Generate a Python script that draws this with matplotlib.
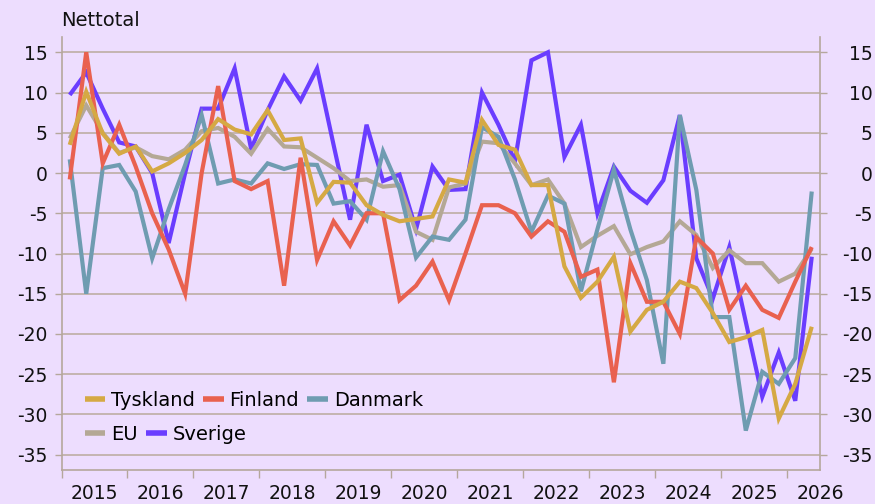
import matplotlib
matplotlib.use("Agg")
import matplotlib.pyplot as plt
from matplotlib.lines import Line2D
import numpy as np
import pandas as pd

# Quarterly observations 2015Q1 .. 2026Q2
quarters = pd.period_range("2015Q1", "2026Q2", freq="Q")

tyskland = [3.5, 10.1, 4.9, 2.4, 3.3, 0.2, 1.2, 2.5, 4.1, 6.7, 5.4, 4.8,
            7.8, 4.1, 4.3, -3.7, -1.1, -1.2, -4.0, -5.2, -6.0, -5.7, -5.4, -0.8,
            -1.2, 6.6, 3.5, 2.9, -1.5, -1.5, -11.6, -15.5, -13.5, -10.4, -19.7, -17.0,
            -16.0, -13.5, -14.3, -17.4, -21.0, -20.4, -19.5, -30.5, -26.2, -19.1]
finland = [-0.8, 15.0, 1.2, 6.0, 0.8, -5.0, -9.5, -15.0, 0.0, 10.8, -1.0, -2.0,
           -1.0, -14.0, 1.9, -10.8, -6.0, -9.0, -5.0, -5.0, -15.8, -14.0, -11.0, -15.8,
           -10.0, -4.0, -4.0, -5.0, -7.9, -6.0, -7.3, -12.9, -12.0, -26.0, -11.2, -16.0,
           -16.0, -20.0, -8.0, -10.0, -17.0, -14.0, -17.0, -18.0, -13.5, -9.2]
danmark = [1.7, -15.0, 0.6, 1.0, -2.3, -10.6, -4.5, 1.0, 7.2, -1.3, -0.8, -1.3,
           1.2, 0.5, 1.1, 1.0, -3.8, -3.5, -5.8, 2.7, -2.0, -10.5, -7.9, -8.3,
           -5.8, 5.7, 4.5, -0.8, -7.3, -2.8, -3.8, -14.7, -7.0, 0.4, -7.0, -13.3,
           -23.7, 7.2, -2.1, -17.9, -17.9, -32.0, -24.7, -26.2, -23.0, -2.3]
eu = [4.3, 8.4, 5.0, 2.5, 3.2, 2.1, 1.7, 2.9, 5.2, 5.6, 4.5, 2.4,
      5.5, 3.3, 3.2, 1.9, 0.6, -1.0, -0.8, -1.7, -1.5, -7.3, -8.3, -1.8,
      -1.3, 3.9, 3.7, 1.2, -1.5, -0.8, -3.8, -9.2, -7.8, -6.6, -10.1, -9.2,
      -8.5, -6.0, -7.7, -11.8, -9.6, -11.2, -11.2, -13.5, -12.5, -9.4]
sverige = [9.7, 12.5, 8.0, 3.8, 3.3, 0.0, -8.7, 0.0, 8.0, 8.0, 13.0, 3.0,
           7.8, 12.0, 9.0, 13.0, 3.5, -5.8, 6.0, -1.0, -0.2, -7.0, 0.8, -2.1,
           -2.0, 10.0, 6.0, 1.5, 14.0, 15.0, 2.0, 6.0, -5.0, 0.8, -2.2, -3.7,
           -0.9, 7.2, -10.6, -15.6, -9.2, -18.5, -27.8, -22.3, -28.3, -10.4]

series_names = ["Tyskland", "Finland", "Danmark", "EU", "Sverige"]
series_values = [tyskland, finland, danmark, eu, sverige]
series_colors = ["#D5A944", "#E9614F", "#6F9CB1", "#B4A895", "#6A3DFF"]
series_z = [6, 5, 4, 3, 2]

year_labels = [str(y) for y in range(2015, 2027)]
y_ticks = [15, 10, 5, 0, -5, -10, -15, -20, -25, -30, -35]

bg = "#EDDDFE"
grid_c = "#BDAEA3"
spine_c = "#B5A79C"
txt_c = "#111111"
FS = 14
TFS = 13.5

plt.rcParams["font.family"] = ["DejaVu Sans"]

fig = plt.figure(figsize=(8.75, 5.04), dpi=100, facecolor=bg)
ax = fig.add_axes([61.5 / 875, 1 - 470 / 504, (820 - 61.5) / 875, (470 - 37) / 504])
ax.set_facecolor(bg)

x = np.array([q.year + (q.quarter - 0.5) / 4 for q in quarters])

for name, vals, col, z in zip(series_names, series_values, series_colors, series_z):
    ax.plot(x, vals, color=col, lw=3.0, zorder=z, solid_joinstyle="miter",
            solid_capstyle="butt", label=name)

ax.set_xlim(2015.0, 2026.5)
ax.set_ylim(-36.9, 16.9)

# y ticks both sides
ax.set_yticks(y_ticks)
ax.set_yticklabels([str(v) for v in y_ticks])
ax.tick_params(axis="y", which="both", left=True, right=True, labelleft=True,
               labelright=False, length=5, width=1, color=spine_c,
               labelsize=TFS, labelcolor=txt_c, pad=5)
ax.yaxis.grid(True, color=grid_c, lw=1.2, zorder=0)
ax.set_axisbelow(True)

# right-side labels, right-aligned near figure edge
axr = ax.twinx()
axr.set_ylim(ax.get_ylim())
axr.set_yticks(y_ticks)
axr.set_yticklabels([str(v) for v in y_ticks])
axr.tick_params(axis="y", length=5, width=1, color=spine_c, labelsize=TFS,
                labelcolor=txt_c, pad=33)
for lab in axr.get_yticklabels():
    lab.set_horizontalalignment("right")
for s in axr.spines.values():
    s.set_visible(False)

# x: major ticks at year boundaries, labels at mid-year
years = np.arange(2015, 2027)
ax.set_xticks(years)
ax.set_xticklabels([])
ax.set_xticks(years + 0.5, minor=True)
ax.set_xticklabels(year_labels, minor=True)
ax.tick_params(axis="x", which="major", length=6, width=1, color=spine_c)
ax.tick_params(axis="x", which="minor", length=0, labelsize=TFS,
               labelcolor=txt_c, pad=10)

for s in ["left", "right", "bottom"]:
    ax.spines[s].set_color(spine_c)
    ax.spines[s].set_linewidth(1.2)
ax.spines["top"].set_visible(False)

fig.text(61 / 875, 1 - 20 / 504, "Nettotal", fontsize=FS, color=txt_c,
         ha="left", va="center")

# Legend: flow layout in two rows
def handles(idx):
    return [Line2D([], [], color=series_colors[i], lw=4, solid_capstyle="butt")
            for i in idx]

common = dict(frameon=False, fontsize=FS, handlelength=1.05, handletextpad=0.3,
              columnspacing=0.42, borderaxespad=0.5, borderpad=0.4,
              loc="center left")
leg1 = ax.legend(handles([0, 1, 2]), [series_names[i] for i in [0, 1, 2]],
                 ncol=3, bbox_to_anchor=(0.008, 0.161), **common)
ax.add_artist(leg1)
leg2 = ax.legend(handles([3, 4]), [series_names[i] for i in [3, 4]],
                 ncol=2, bbox_to_anchor=(0.008, 0.083), **common)

fig.savefig("out.png", dpi=100, facecolor=bg)
